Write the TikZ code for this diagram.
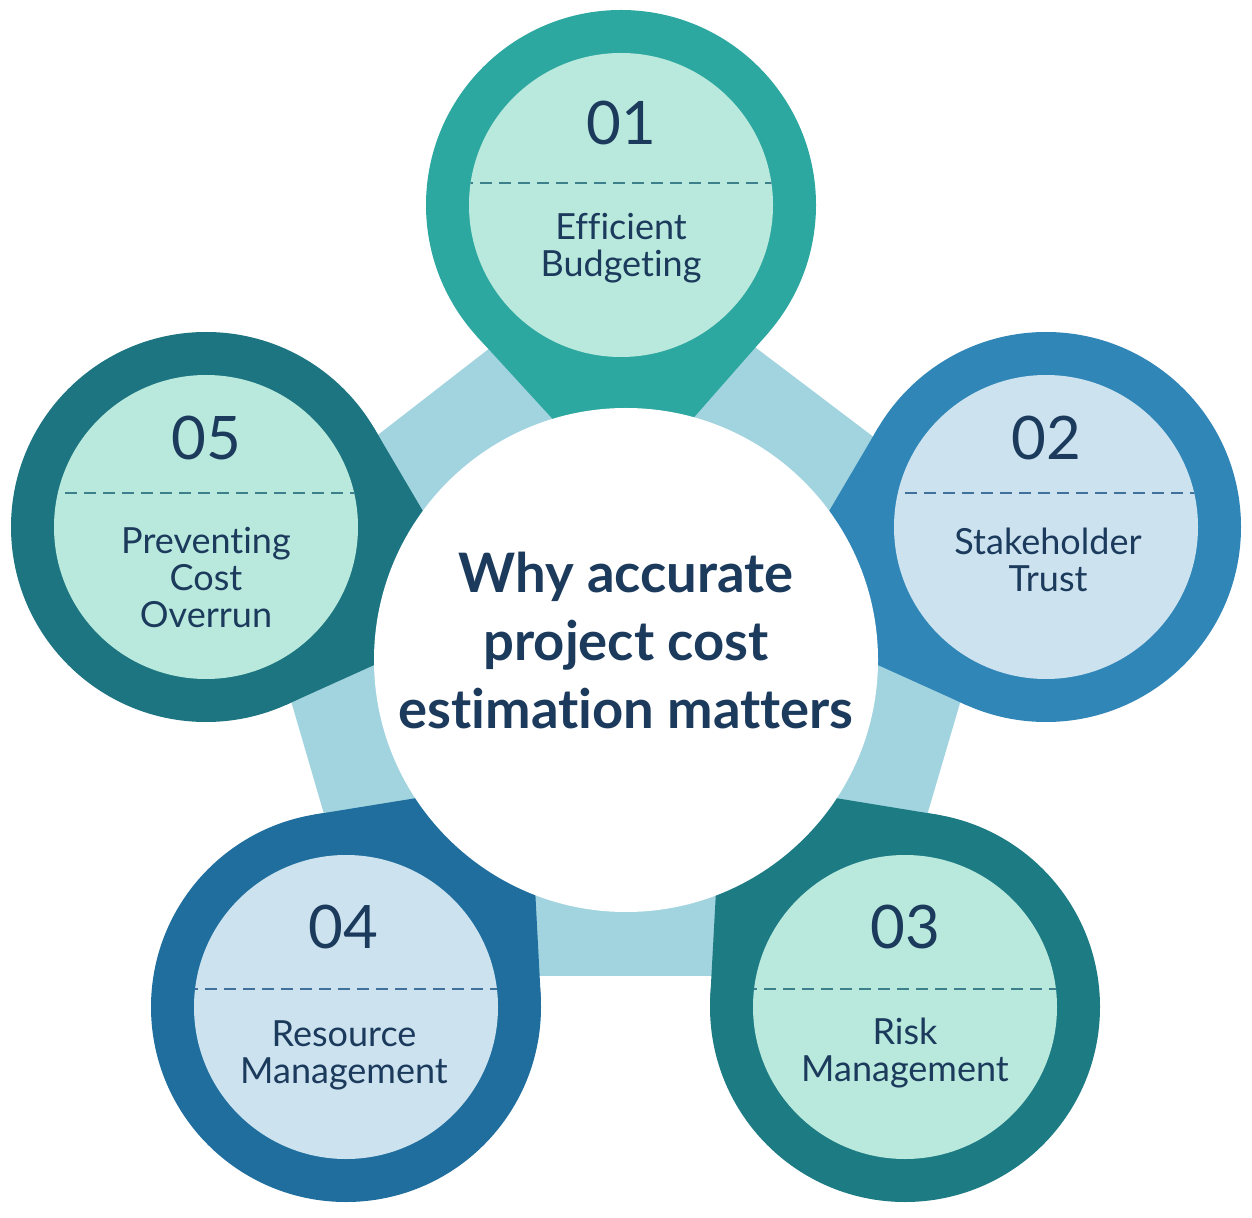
\documentclass[tikz,border=0pt]{standalone}
\usepackage{fontspec}
\setmainfont{Lato}[Ligatures={NoCommon,NoRequired,NoContextual}]
\usetikzlibrary{calc}
\definecolor{ringA}{HTML}{2DA8A0}
\definecolor{ringB}{HTML}{3186B8}
\definecolor{ringC}{HTML}{1D7B84}
\definecolor{ringD}{HTML}{1F6E9E}
\definecolor{ringE}{HTML}{1C7580}
\definecolor{mint}{HTML}{B9E9DD}
\definecolor{pale}{HTML}{CCE3EF}
\definecolor{penta}{HTML}{A2D4E0}
\definecolor{navy}{HTML}{1B3A5C}
\definecolor{dashmint}{HTML}{3E7F8C}
\definecolor{dashblue}{HTML}{3F719C}
\tikzset{
  numtext/.style={text=navy, font=\fontsize{30}{30}\selectfont, inner sep=0pt},
  labtext/.style={text=navy, font=\fontsize{18}{18.5}\selectfont, align=center, inner sep=0pt},
  titletext/.style={text=navy, font=\fontsize{27.2}{34}\selectfont\bfseries, align=center, inner sep=0pt},
  divider/.style={dash pattern=on 6pt off 3.5pt, line width=1pt},
}
\newcommand{\pin}[4]{% name, ringcolor, innercolor, angle
  \fill[#2] (#1) circle[radius=195];
  \fill[#2, shift={(#1)}] (#4+48.4:195) -- (#4:292) -- (#4-48.4:195) -- cycle;
  \fill[#3] (#1) circle[radius=152];
}
\newcommand{\divline}[3]{% center, offset, color
  \begin{scope}
    \clip (#1) circle[radius=152];
    \draw[divider, #3] ($(#1)+(-160,#2)$) -- ($(#1)+(160,#2)$);
  \end{scope}
}
\begin{document}
\begin{tikzpicture}[x=0.5pt,y=-0.5pt]
\useasboundingbox (0,0) rectangle (1252,1218);
\fill[white] (0,0) rectangle (1252,1218);
\coordinate (c) at (626,660);
\coordinate (p1) at (621,205);
\coordinate (p2) at (1046,527);
\coordinate (p3) at (905,1007);
\coordinate (p4) at (346,1007);
\coordinate (p5) at (206,527);
% pentagon
\fill[penta] ($(c)!0.91!(p1)$) -- ($(c)!0.91!(p2)$) -- ($(c)!0.91!(p3)$) -- ($(c)!0.91!(p4)$) -- ($(c)!0.91!(p5)$) -- cycle;
% pins
\pin{p1}{ringA}{mint}{89.4}
\pin{p2}{ringB}{pale}{162.4}
\pin{p3}{ringC}{mint}{231.2}
\pin{p4}{ringD}{pale}{308.9}
\pin{p5}{ringE}{mint}{17.6}
% centre
\fill[white] (c) circle[radius=252];
\node[titletext] (title) at (626,641) {Why accurate\\project cost\\estimation matters};
% dividers
\divline{p1}{-22}{dashmint}
\divline{p2}{-34}{dashblue}
\divline{p3}{-18}{dashmint}
\divline{p4}{-18}{dashblue}
\divline{p5}{-34}{dashmint}
% numbers
\node[numtext] (n1) at ($(p1)+(0,-82)$) {01};
\node[numtext] (n2) at ($(p2)+(0,-89)$) {02};
\node[numtext] (n3) at ($(p3)+(0,-80)$) {03};
\node[numtext] (n4) at ($(p4)+(-3,-80)$) {04};
\node[numtext] (n5) at ($(p5)+(0,-89)$) {05};
% labels
\node[labtext] (l1) at ($(p1)+(0,43)$) {Efficient\\Budgeting};
\node[labtext] (l2) at ($(p2)+(2,33)$) {Stakeholder\\Trust};
\node[labtext] (l3) at ($(p3)+(0,46)$) {Risk\\Management};
\node[labtext] (l4) at ($(p4)+(-2,48)$) {Resource\\Management};
\node[labtext] (l5) at ($(p5)+(0,51)$) {Preventing\\Cost\\Overrun};
\end{tikzpicture}
\end{document}
